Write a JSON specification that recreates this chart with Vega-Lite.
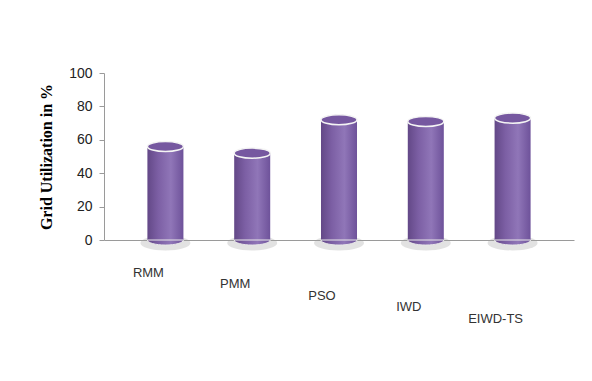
{
  "$schema": "https://vega.github.io/schema/vega-lite/v6.json",
  "autosize": {"type": "none"},
  "padding": {"left": 104, "top": 73, "right": 18, "bottom": 141},
  "width": 470,
  "height": 167,
  "background": "white",
  "config": {
    "view": {"stroke": null},
    "font": "Liberation Sans",
    "axisY": {
      "titleFont": "Liberation Serif", "titleFontWeight": "bold",
      "titleFontSize": 16, "titleColor": "#000000", "titlePadding": 14,
      "values": [0, 20, 40, 60, 80, 100], "labelOverlap": false,
      "grid": false, "domainColor": "#9a9a9a", "tickColor": "#9a9a9a",
      "tickSize": 5, "labelFontSize": 14, "labelColor": "#222222",
      "labelPadding": 7
    }
  },
  "data": {"values": [
    {"method": "RMM", "util": 56},
    {"method": "PMM", "util": 52},
    {"method": "PSO", "util": 72},
    {"method": "IWD", "util": 71},
    {"method": "EIWD-TS", "util": 73}
  ]},
  "encoding": {
    "x": {
      "field": "method", "type": "nominal", "sort": null,
      "scale": {"paddingInner": 0.585, "paddingOuter": 0.5},
      "axis": {
        "title": null, "labelAngle": 0, "ticks": false,
        "domain": true, "domainColor": "#9a9a9a",
        "labelFontSize": 13, "labelColor": "#333333",
        "labelOffset": -17, "labelOverlap": false,
        "labelPadding": {"expr": "26 + datum.index * 46"}
      }
    }
  },
  "layer": [
    {
      "mark": {"type": "point", "filled": true, "shape": "M-1,0A1,0.3 0 1,1 1,0A1,0.3 0 1,1 -1,0Z", "size": 2500, "color": "#a0a0a0", "opacity": 0.3, "yOffset": 3},
      "encoding": {"y": {"datum": 0, "type": "quantitative", "scale": {"domain": [0, 100]}, "axis": {"title": "Grid Utilization in %"}}}
    },
    {
      "mark": {
        "type": "bar",
        "color": {"gradient": "linear", "x1": 0, "x2": 1, "y1": 0, "y2": 0,
          "stops": [
            {"offset": 0, "color": "#634887"},
            {"offset": 0.3, "color": "#7c5fa4"},
            {"offset": 0.65, "color": "#9076b8"},
            {"offset": 1, "color": "#6e529a"}
          ]}
      },
      "encoding": {
        "y": {
          "field": "util", "type": "quantitative",
          "scale": {"domain": [0, 100]},
          "axis": {"title": "Grid Utilization in %"}
        }
      }
    },
    {
      "mark": {
        "type": "point", "filled": true, "opacity": 1,
        "shape": "M-1,0A1,0.28 0 0,0 1,0Z", "size": 1296,
        "fill": {"gradient": "linear", "x1": 0, "x2": 1, "y1": 0, "y2": 0,
          "stops": [
            {"offset": 0, "color": "#634887"},
            {"offset": 0.3, "color": "#7c5fa4"},
            {"offset": 0.65, "color": "#9076b8"},
            {"offset": 1, "color": "#6e529a"}
          ]},
        "stroke": "#e8e8e8", "strokeWidth": 1
      },
      "encoding": {"y": {"datum": 0, "type": "quantitative", "axis": {"title": "Grid Utilization in %"}}}
    },
    {
      "mark": {
        "type": "point", "filled": true, "opacity": 1,
        "shape": "M-1,0A1,0.28 0 1,1 1,0A1,0.28 0 1,1 -1,0Z", "size": 1296,
        "fill": "#7658a0", "stroke": "#f4f4f4", "strokeWidth": 1.5
      },
      "encoding": {"y": {"field": "util", "type": "quantitative", "axis": {"title": "Grid Utilization in %"}}}
    }
  ]
}
